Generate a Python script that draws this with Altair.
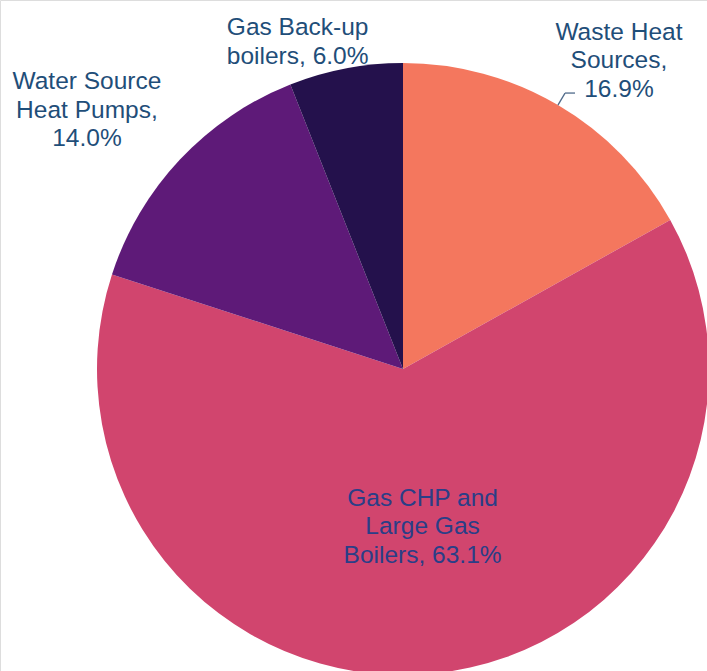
import altair as alt
import pandas as pd

# ---- data ----
categories = ["Waste Heat Sources", "Gas CHP and Large Gas Boilers",
              "Water Source Heat Pumps", "Gas Back-up boilers"]
shares = [16.9, 63.1, 14.0, 6.0]
labels = ["Waste Heat\nSources,\n16.9%",
          "Gas CHP and\nLarge Gas\nBoilers, 63.1%",
          "Water Source\nHeat Pumps,\n14.0%",
          "Gas Back-up\nboilers, 6.0%"]
colors = ["#F4775E", "#D1456E", "#5E1A78", "#24114C"]

df = pd.DataFrame({"category": categories, "value": shares,
                   "label": labels, "order": list(range(len(categories)))})

# ---- layout / style ----
CX, CY, R = 403, 369, 306
LH = 28.5
# label placement: radius of anchor point on the slice's mid-angle, plus offset
lab_r = {"Waste Heat Sources": 306, "Gas CHP and Large Gas Boilers": 160,
         "Water Source Heat Pumps": 306, "Gas Back-up boilers": 306}
lab_dx = {"Waste Heat Sources": 61, "Gas CHP and Large Gas Boilers": 4,
          "Water Source Heat Pumps": -93, "Gas Back-up boilers": -48}
lab_dy = {"Waste Heat Sources": -44, "Gas CHP and Large Gas Boilers": -1,
          "Water Source Heat Pumps": -49, "Gas Back-up boilers": -26}
lab_col = {"Waste Heat Sources": "#1F4E79", "Gas CHP and Large Gas Boilers": "#2A3E87",
           "Water Source Heat Pumps": "#1F4E79", "Gas Back-up boilers": "#1F4E79"}


def lookup_expr(d, quote=False):
    expr = "0"
    for k, v in d.items():
        val = f"'{v}'" if quote else str(v)
        expr = f"datum.category == '{k}' ? {val} : ({expr})"
    return expr


base = alt.Chart(df)

pie = base.mark_arc(radius=R, stroke=None).encode(
    theta=alt.Theta("value:Q", stack=True),
    color=alt.Color("category:N", scale=alt.Scale(domain=categories, range=colors), legend=None),
    order=alt.Order("order:Q"),
    x=alt.value(CX),
    y=alt.value(CY),
)

geo = base.transform_joinaggregate(
    total="sum(value)"
).transform_window(
    cum="sum(value)", sort=[alt.SortField("order")], frame=[None, 0]
).transform_calculate(
    mid="2*PI*(datum.cum - datum.value/2)/datum.total",
    nlines="length(split(datum.label, '\\n'))",
).transform_calculate(
    lr=lookup_expr(lab_r), ldx=lookup_expr(lab_dx), ldy=lookup_expr(lab_dy),
    lcol=lookup_expr(lab_col, quote=True)
).transform_calculate(
    tx=f"{CX} + datum.lr*sin(datum.mid) + datum.ldx",
    ty=f"{CY} - datum.lr*cos(datum.mid) + datum.ldy - (datum.nlines - 1)*{LH}/2",
    # leader line (Waste Heat Sources only)
    l1x=f"{CX} + {R}*sin(datum.mid)",
    l1y=f"{CY} - {R}*cos(datum.mid)",
    l2x=f"{CX} + 320*sin(datum.mid)",
    l2y=f"{CY} - 320*cos(datum.mid)",
)

text = geo.mark_text(
    font="Liberation Sans", fontSize=24.5, lineBreak="\n", lineHeight=LH,
    align="center", baseline="middle"
).encode(
    x=alt.X("tx:Q", scale=None),
    y=alt.Y("ty:Q", scale=None),
    text="label:N",
    color=alt.Color("lcol:N", scale=None),
)

leader_geo = geo.transform_filter(alt.datum.category == "Waste Heat Sources")
leader1 = leader_geo.mark_rule(color="#4F6A8A", strokeWidth=1.3).encode(
    x=alt.X("l1x:Q", scale=None), y=alt.Y("l1y:Q", scale=None),
    x2="l2x:Q", y2="l2y:Q",
)
leader2 = leader_geo.transform_calculate(l3x="datum.l2x + 10").mark_rule(
    color="#4F6A8A", strokeWidth=1.3).encode(
    x=alt.X("l2x:Q", scale=None), y=alt.Y("l2y:Q", scale=None),
    x2="l3x:Q", y2="l2y:Q",
)

chart = alt.layer(pie, leader1, leader2, text).properties(
    width=707, height=671, padding=0,
    autosize=alt.AutoSizeParams(type="none"),
).configure_view(stroke=None).configure(background="white")

chart.save("out.html", embed_options={"renderer": "svg", "actions": False})
